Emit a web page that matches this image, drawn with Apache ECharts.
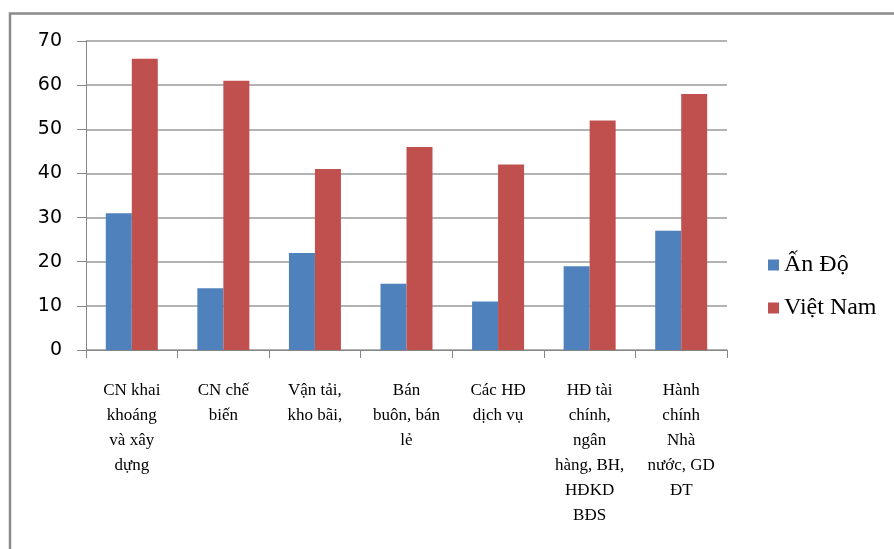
<!DOCTYPE html>
<html>
<head>
<meta charset="utf-8">
<script src="https://cdn.jsdelivr.net/npm/echarts@6/dist/echarts.min.js"></script>
<style>
  html, body { margin: 0; padding: 0; background: #fff; }
  #chart { width: 894px; height: 549px; }
</style>
</head>
<body>
<div id="chart"></div>
<script>
const categories = [
  "CN khai\nkhoáng\nvà xây\ndựng",
  "CN chế\nbiến",
  "Vận tải,\nkho bãi,",
  "Bán\nbuôn, bán\nlẻ",
  "Các HĐ\ndịch vụ",
  "HĐ tài\nchính,\nngân\nhàng, BH,\nHĐKD\nBĐS",
  "Hành\nchính\nNhà\nnước, GD\nĐT"
];
const seriesNames = ["Ấn Độ", "Việt Nam"];
const anDo = [31, 14, 22, 15, 11, 19, 27];
const vietNam = [66, 61, 41, 46, 42, 52, 58];
const yTicks = { min: 0, max: 70, interval: 10 };

const chart = echarts.init(document.getElementById('chart'), null, { renderer: 'canvas' });
chart.setOption({
  animation: false,
  backgroundColor: '#ffffff',
  graphic: [{
    type: 'rect',
    shape: { x: 10, y: 13.5, width: 900, height: 600 },
    style: { fill: 'none', stroke: '#8a8a8a', lineWidth: 2.5 },
    silent: true
  }],
  grid: { left: 86, top: 41, right: 167, bottom: 199, containLabel: false },
  legend: {
    orient: 'vertical',
    left: 768,
    top: 253,
    padding: 0,
    icon: 'rect',
    itemWidth: 11,
    itemHeight: 11,
    itemGap: 19,
    data: seriesNames,
    textStyle: { fontFamily: 'Liberation Serif', fontSize: 24, color: '#000' }
  },
  xAxis: {
    type: 'category',
    data: categories,
    axisLine: { lineStyle: { color: '#868686', width: 1 } },
    axisTick: { show: true, length: 8, lineStyle: { color: '#868686' }, alignWithLabel: false },
    axisLabel: {
      interval: 0,
      margin: 28,
      color: '#000',
      fontFamily: 'Liberation Serif',
      fontSize: 17,
      lineHeight: 25,
      align: 'center'
    }
  },
  yAxis: {
    type: 'value',
    min: yTicks.min,
    max: yTicks.max,
    interval: yTicks.interval,
    axisLine: { show: true, lineStyle: { color: '#868686', width: 1 } },
    axisTick: { show: true, length: 9, lineStyle: { color: '#868686' } },
    splitLine: { lineStyle: { color: '#9a9a9a', width: 1.5 } },
    axisLabel: {
      margin: 24,
      color: '#000',
      fontFamily: 'DejaVu Sans',
      fontSize: 19
    }
  },
  series: [
    {
      name: seriesNames[0],
      type: 'bar',
      data: anDo,
      barWidth: 26,
      barGap: '0%',
      itemStyle: { color: '#4F81BD' }
    },
    {
      name: seriesNames[1],
      type: 'bar',
      data: vietNam,
      barWidth: 26,
      barGap: '0%',
      itemStyle: { color: '#C0504D' }
    }
  ]
});
</script>
</body>
</html>
